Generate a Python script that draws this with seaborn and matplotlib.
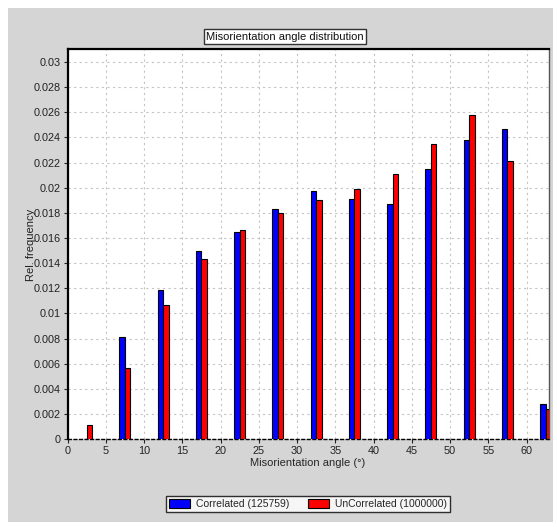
import matplotlib
matplotlib.use("Agg")
import matplotlib.pyplot as plt
from matplotlib.patches import Rectangle, Patch
from matplotlib.ticker import FuncFormatter, MultipleLocator
import seaborn as sns
import pandas as pd

# Misorientation angle histogram, 5 degree bins (bin centres)
bin_centres = [2.5, 7.5, 12.5, 17.5, 22.5, 27.5, 32.5, 37.5, 42.5, 47.5, 52.5, 57.5, 62.5]
correlated = [0.0, 0.0081, 0.0119, 0.0150, 0.01645, 0.0183, 0.0197, 0.0191,
              0.0187, 0.0215, 0.0238, 0.0247, 0.0028]
uncorrelated = [0.0011, 0.0057, 0.0107, 0.0143, 0.0166, 0.0180, 0.0190, 0.0199,
                0.0211, 0.0235, 0.0258, 0.0221, 0.0024]
series_names = ["Correlated (125759)", "UnCorrelated (1000000)"]
series_colors = ["#0000ff", "#ff0000"]

df = pd.DataFrame({
    "angle": bin_centres * 2,
    "freq": correlated + uncorrelated,
    "series": [series_names[0]] * len(bin_centres) + [series_names[1]] * len(bin_centres),
})

sns.set_style("white")
plt.rcParams["font.family"] = ["Liberation Sans", "DejaVu Sans"]

W, H = 557, 527
fig = plt.figure(figsize=(W / 100, H / 100), dpi=100)
fig.patch.set_facecolor("white")

# grey window panel
fig.patches.append(Rectangle((8 / W, 1 - 522 / H), (553 - 8) / W, (522 - 8) / H,
                             transform=fig.transFigure, facecolor="#d5d5d5",
                             edgecolor="none", zorder=-10))

ax = fig.add_axes([67.5 / W, 1 - 439.3 / H, (548.7 - 67.5) / W, (439.3 - 49.3) / H])
ax.set_zorder(1)
ax.set_facecolor("white")

sns.barplot(data=df, x="angle", y="freq", hue="series", native_scale=True,
            palette=series_colors, width=0.29, edgecolor="black", linewidth=0.8,
            saturation=1, ax=ax, legend=False, zorder=3)

ax.set_xlim(0, 62.9)
ax.set_ylim(0, 0.031)
ax.xaxis.set_major_locator(MultipleLocator(5))
ax.yaxis.set_major_locator(MultipleLocator(0.002))
ax.yaxis.set_major_formatter(FuncFormatter(lambda v, p: f"{v:.3f}".rstrip("0").rstrip(".") if v else "0"))
ax.xaxis.set_major_formatter(FuncFormatter(lambda v, p: f"{v:g}"))
ax.tick_params(axis="both", labelsize=7.8, colors="#222222", length=3, width=0.8,
               direction="out", bottom=True, left=True, pad=2)

ax.grid(True, which="major", color="#c4c4c4", linestyle=(0, (2, 3)), linewidth=0.8, zorder=0)
ax.set_axisbelow(True)

for side in ["left", "top"]:
    ax.spines[side].set_color("black")
    ax.spines[side].set_linewidth(1.6)
ax.spines["right"].set_color("#555555")
ax.spines["right"].set_linewidth(1.0)
ax.spines["bottom"].set_color("black")
ax.spines["bottom"].set_linewidth(1.0)
ax.spines["bottom"].set_linestyle((0, (2, 2)))

ax.set_xlabel("Misorientation angle (°)", fontsize=8, labelpad=1)
ax.set_ylabel("")
fig.text(31 / W, 1 - 245 / H, "Rel. frequency", rotation=90, ha="center", va="center",
         fontsize=8, color="#222222", zorder=5)

# title in a boxed label
fig.text(285 / W, 1 - 36.7 / H, "Misorientation angle distribution", ha="center", va="center",
         fontsize=8, color="#111111",
         bbox=dict(boxstyle="square,pad=0.2", facecolor="white", edgecolor="#333333", linewidth=1.0))

handles = [Patch(facecolor=c, edgecolor="black", linewidth=0.8) for c in series_colors]
leg = fig.legend(handles, series_names, loc="center", bbox_to_anchor=(308 / W, 1 - 504 / H),
                 ncol=2, fontsize=7.5, frameon=True, fancybox=False, handlelength=2.0,
                 handleheight=1.0, columnspacing=1.8, borderpad=0.3, handletextpad=0.6)
leg.get_frame().set_edgecolor("black")
leg.get_frame().set_linewidth(1.0)

fig.savefig("out.png", dpi=100, facecolor=fig.get_facecolor())
